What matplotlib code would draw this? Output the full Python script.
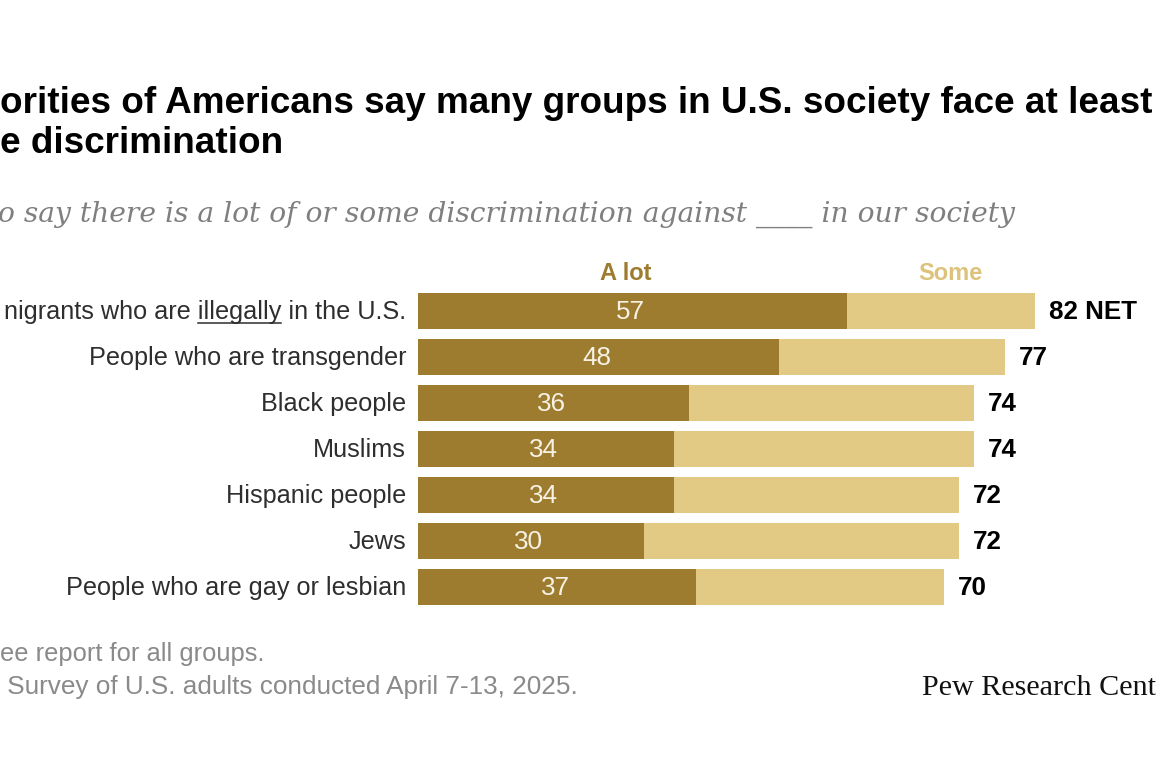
import matplotlib
matplotlib.use("Agg")
import matplotlib.pyplot as plt
from matplotlib.lines import Line2D
import numpy as np

# ---------------- data ----------------
groups = [
    "nigrants who are illegally in the U.S.",
    "People who are transgender",
    "Black people",
    "Muslims",
    "Hispanic people",
    "Jews",
    "People who are gay or lesbian",
]
a_lot = [57, 48, 36, 34, 34, 30, 37]
some = [25, 30, 38, 40, 38, 42, 33]
net = [82, 77, 74, 74, 72, 72, 70]
net_labels = ["82 NET", "77", "74", "74", "72", "72", "70"]
series_names = ["A lot", "Some"]

title_line1 = "orities of Americans say many groups in U.S. society face at least"
title_line2 = "e discrimination"
subtitle = "o say there is a lot of or some discrimination against ____ in our society"
note = "ee report for all groups."
source = " Survey of U.S. adults conducted April 7-13, 2025."
logo = "Pew Research Cent"

DARK = "#9D7C2F"
LIGHT = "#E2CA85"
SOME_HDR = "#DCC27A"
LABEL_C = "#2E2E2E"
GREY = "#8A8A8A"

W, H = 1156, 770
fig = plt.figure(figsize=(W / 100, H / 100), dpi=100)
fig.patch.set_facecolor("white")
renderer = fig.canvas.get_renderer()

SANS = ["Liberation Sans", "DejaVu Sans"]


def px(x, y):
    return x / W, 1 - y / H


def fit_text(txt, x0, x1, ybase, **kw):
    t = fig.text(*px(x0, ybase), txt, ha="left", va="baseline", **kw)
    for _ in range(3):
        bb = t.get_window_extent(renderer)
        t.set_fontsize(t.get_fontsize() * (x1 - x0) / bb.width)
    return t


# ---------------- axes ----------------
left_px, top_px, row_px = 418, 288, 46
n = len(groups)
scale = 7.52  # px per percentage point
ax = fig.add_axes([left_px / W, (H - (top_px + n * row_px)) / H,
                   (W - left_px) / W, n * row_px / H])
ax.set_xlim(0, (W - left_px) / scale)
ax.set_ylim(n - 0.5, -0.5)
ax.axis("off")

y = np.arange(n)
ax.barh(y, a_lot, height=0.8, color=DARK, edgecolor="none")
ax.barh(y, some, left=a_lot, height=0.8, color=LIGHT, edgecolor="none")

# label font size fitted so the longest (cropped) label fits in the space
tmp = fig.text(0, 0, groups[0], fontsize=18, family=SANS)
lab_fs = 18 * 402 / tmp.get_window_extent(renderer).width
tmp.remove()

for i, (g, a, s, nl) in enumerate(zip(groups, a_lot, some, net_labels)):
    ax.annotate(str(a), xy=(a / 2, i), xytext=(-1.5, -6.0), textcoords="offset points",
                ha="center", va="baseline", color="#F7F2E4", fontsize=lab_fs + 0.5,
                family=SANS)
    ax.annotate(nl, xy=(a + s, i), xytext=(10, -6.0), textcoords="offset points",
                ha="left", va="baseline", color="black", fontsize=lab_fs + 0.5,
                fontweight="bold", family=SANS)
    lt = ax.annotate(g, xy=(0, i), xycoords=ax.get_yaxis_transform(),
                     xytext=(-8.6, -6.0), textcoords="offset points",
                     ha="right", va="baseline", color=LABEL_C, fontsize=lab_fs, family=SANS)
    if i == 0:
        fig.canvas.draw()
        bb = lt.get_window_extent(renderer)
        t1 = fig.text(0, 0, "illegally in the U.S.", fontsize=lab_fs, family=SANS)
        t2 = fig.text(0, 0, "illegally", fontsize=lab_fs, family=SANS)
        w_tail = t1.get_window_extent(renderer).width
        w_ill = t2.get_window_extent(renderer).width
        t1.remove(); t2.remove()
        yc = ax.transData.transform((0, 0))[1]
        yline = yc - 8.3 - 3.5
        xs = bb.x1 - w_tail
        fig.add_artist(Line2D([xs / W, (xs + w_ill) / W], [yline / H, yline / H],
                              color=LABEL_C, lw=1.1, transform=fig.transFigure))

# series headers
fig.text(*px(626, 280), series_names[0], ha="center", va="baseline", color=DARK,
         fontsize=17, fontweight="bold", family=SANS)
fig.text(*px(950, 280), series_names[1], ha="center", va="baseline", color=SOME_HDR,
         fontsize=17, fontweight="bold", family=SANS)

# ---------------- titles & footer ----------------
t1 = fit_text(title_line1, 0, 1153, 113, fontsize=22, fontweight="bold",
              family=SANS, color="black")
fig.text(*px(0, 153), title_line2, ha="left", va="baseline", fontsize=t1.get_fontsize(),
         fontweight="bold", family=SANS, color="black")
fit_text(subtitle, -2, 1016, 222, fontsize=20, style="italic",
         family=["DejaVu Serif"], color="#7F7F7F")
fit_text(note, 0, 265, 661, fontsize=14, family=SANS, color=GREY)
fit_text(source, 0, 578, 694, fontsize=14, family=SANS, color=GREY)
fit_text(logo, 922, 1156, 695, fontsize=20, family=["Liberation Serif", "DejaVu Serif"],
         color="#111111")

fig.savefig("out.png", dpi=100)
